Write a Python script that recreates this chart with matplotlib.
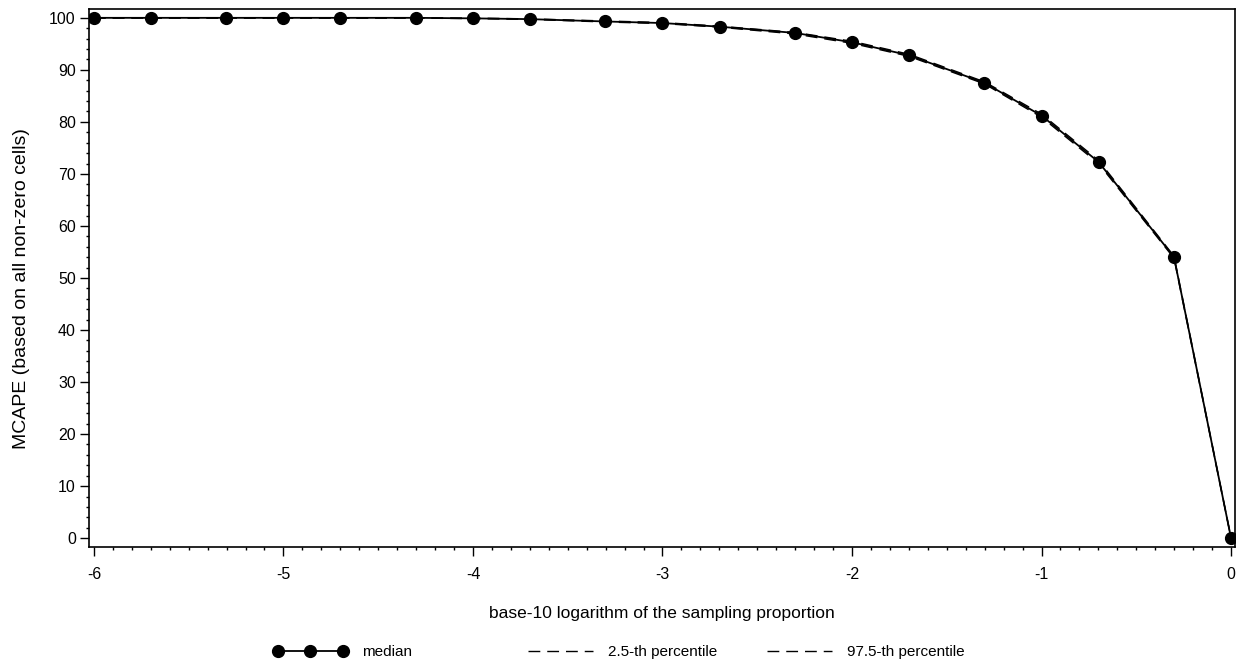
import matplotlib
matplotlib.use("Agg")
import matplotlib.pyplot as plt
from matplotlib.lines import Line2D
from matplotlib.ticker import MultipleLocator

plt.rcParams["font.family"] = ["Liberation Sans", "DejaVu Sans"]
plt.rcParams["axes.unicode_minus"] = False

# log10 of sampling proportion (1, 2, 5 steps)
log_prop = [-6.0, -5.699, -5.301, -5.0, -4.699, -4.301, -4.0, -3.699, -3.301,
            -3.0, -2.699, -2.301, -2.0, -1.699, -1.301, -1.0, -0.699, -0.301, 0.0]
mcape_median = [100.0, 100.0, 100.0, 100.0, 100.0, 100.0, 99.9, 99.75, 99.3,
                99.0, 98.3, 97.1, 95.3, 92.8, 87.5, 81.2, 72.3, 54.0, 0.0]
mcape_p025 = [99.95, 99.95, 99.95, 99.95, 99.95, 99.95, 99.85, 99.7, 99.2,
              98.9, 98.2, 96.9, 95.1, 92.6, 87.3, 80.9, 72.0, 53.8, 0.0]
mcape_p975 = [100.0, 100.0, 100.0, 100.0, 100.0, 100.0, 99.95, 99.8, 99.4,
              99.1, 98.4, 97.2, 95.5, 93.0, 87.7, 81.5, 72.6, 54.2, 0.0]

fig = plt.figure(figsize=(12.46, 6.66), dpi=100)
ax = fig.add_axes([0.0714, 0.1787, 0.9198, 0.8078])

dash = (0, (8.5, 5))
ax.plot(log_prop, mcape_p025, color="black", lw=1.0, linestyle=dash, zorder=2)
ax.plot(log_prop, mcape_p975, color="black", lw=1.0, linestyle=dash, zorder=2)
ax.plot(log_prop, mcape_median, color="black", lw=1.3, marker="o",
        markersize=8.5, zorder=3)

ax.set_xlim(-6.026, 0.021)
ax.set_ylim(-1.7, 101.7)
ax.xaxis.set_major_locator(MultipleLocator(1))
ax.xaxis.set_minor_locator(MultipleLocator(0.1))
ax.yaxis.set_major_locator(MultipleLocator(10))
ax.yaxis.set_minor_locator(MultipleLocator(2))
ax.tick_params(axis="both", which="major", length=6.5, width=1.0,
               labelsize=11.5, direction="out")
ax.tick_params(axis="both", which="minor", length=2.5, width=1.0,
               direction="out")
ax.tick_params(axis="x", which="major", pad=8)
ax.tick_params(axis="y", which="major", pad=3)
for s in ax.spines.values():
    s.set_linewidth(1.2)

ax.set_xlabel("base-10 logarithm of the sampling proportion", fontsize=12.5,
              labelpad=17)
ax.set_ylabel("MCAPE (based on all non-zero cells)", fontsize=14)
ax.yaxis.set_label_coords(-0.0515, 0.48)

# legend entries spaced as in the original (fixed-width columns)
entries = [
    (Line2D([], [], color="black", lw=1.3, marker="o", markersize=8.5),
     "median", 273, 0.9),
    (Line2D([], [], color="black", lw=1.0, linestyle=dash),
     "2.5-th percentile", 523, 0.65),
    (Line2D([], [], color="black", lw=1.0, linestyle=dash),
     "97.5-th percentile", 762, 0.65),
]
for handle, label, xpix, tpad in entries:
    leg = fig.legend([handle], [label], loc="center left",
                     bbox_to_anchor=(xpix / 1246, 1 - 652 / 666),
                     frameon=False, fontsize=11, borderpad=0,
                     borderaxespad=0, handlelength=4.9,
                     handletextpad=tpad, numpoints=3)

fig.savefig("out.png", dpi=100)
plt.close(fig)
